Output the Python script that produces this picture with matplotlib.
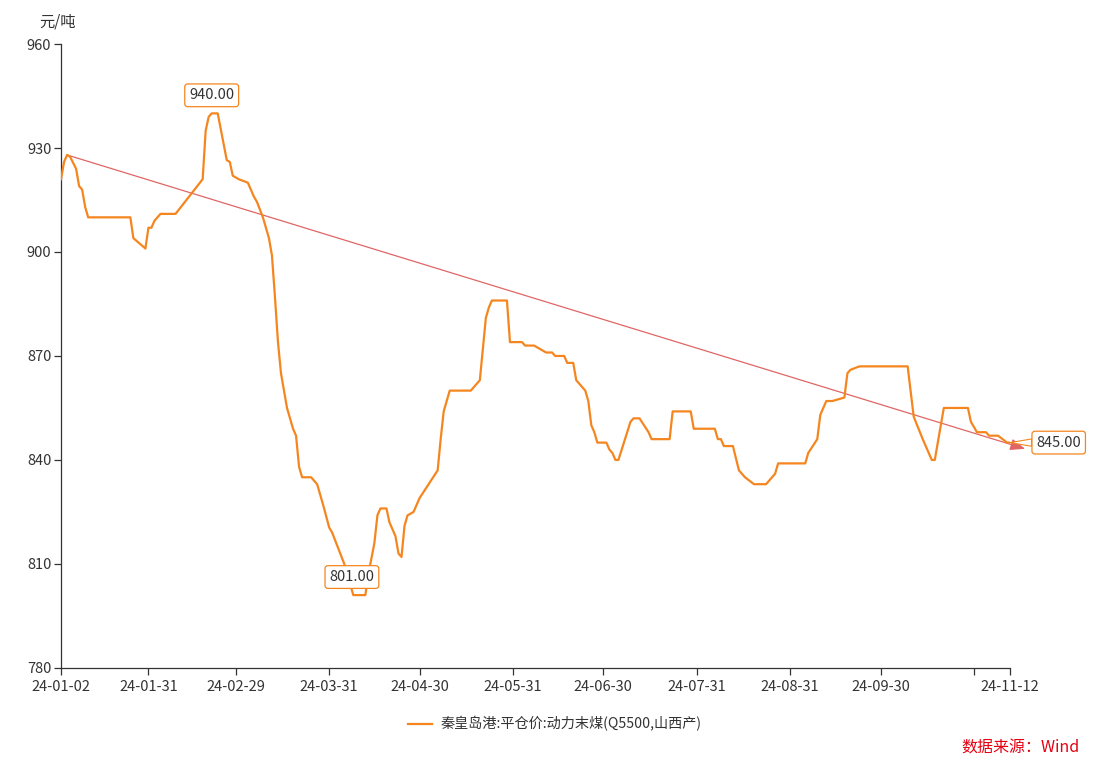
# -*- coding: utf-8 -*-
# Qinhuangdao thermal coal price chart (2024)
import numpy as np
import pandas as pd
import matplotlib
matplotlib.use('agg')
import matplotlib.pyplot as plt

plt.rcParams['font.family'] = ['Noto Sans CJK SC', 'DejaVu Sans']

# data
dates = ['2024-01-02', '2024-01-03', '2024-01-04', '2024-01-05', '2024-01-07', '2024-01-08',
         '2024-01-09', '2024-01-10', '2024-01-11', '2024-01-25', '2024-01-26', '2024-01-30',
         '2024-01-31', '2024-02-01', '2024-02-02', '2024-02-04', '2024-02-09', '2024-02-18',
         '2024-02-19', '2024-02-20', '2024-02-21', '2024-02-23', '2024-02-26', '2024-02-27',
         '2024-02-28', '2024-02-29', '2024-03-01', '2024-03-04', '2024-03-06', '2024-03-07',
         '2024-03-09', '2024-03-11', '2024-03-12', '2024-03-13', '2024-03-14', '2024-03-15',
         '2024-03-17', '2024-03-19', '2024-03-20', '2024-03-21', '2024-03-22', '2024-03-25',
         '2024-03-27', '2024-03-28', '2024-03-29', '2024-03-31', '2024-04-01', '2024-04-05',
         '2024-04-08', '2024-04-12', '2024-04-13', '2024-04-15', '2024-04-16', '2024-04-17',
         '2024-04-19', '2024-04-20', '2024-04-22', '2024-04-23', '2024-04-24', '2024-04-25',
         '2024-04-26', '2024-04-28', '2024-04-30', '2024-05-06', '2024-05-07', '2024-05-08',
         '2024-05-10', '2024-05-17', '2024-05-20', '2024-05-22', '2024-05-23', '2024-05-24',
         '2024-05-29', '2024-05-30', '2024-06-03', '2024-06-04', '2024-06-07', '2024-06-11',
         '2024-06-13', '2024-06-14', '2024-06-17', '2024-06-18', '2024-06-20', '2024-06-21',
         '2024-06-24', '2024-06-25', '2024-06-26', '2024-06-27', '2024-06-28', '2024-07-01',
         '2024-07-02', '2024-07-03', '2024-07-04', '2024-07-05', '2024-07-09', '2024-07-10',
         '2024-07-12', '2024-07-15', '2024-07-16', '2024-07-22', '2024-07-23', '2024-07-29',
         '2024-07-30', '2024-08-06', '2024-08-07', '2024-08-08', '2024-08-09', '2024-08-12',
         '2024-08-14', '2024-08-16', '2024-08-19', '2024-08-23', '2024-08-26', '2024-08-27',
         '2024-09-05', '2024-09-06', '2024-09-09', '2024-09-10', '2024-09-12', '2024-09-14',
         '2024-09-18', '2024-09-19', '2024-09-20', '2024-09-23', '2024-10-09', '2024-10-11',
         '2024-10-14', '2024-10-16', '2024-10-17', '2024-10-18', '2024-10-21', '2024-10-29',
         '2024-10-30', '2024-11-01', '2024-11-04', '2024-11-05', '2024-11-08', '2024-11-11',
         '2024-11-12']
prices = [921, 926, 928, 927.5, 924, 919,
          918, 913, 910, 910, 904, 901,
          907, 907, 909, 911, 911, 921,
          935, 939, 940, 940, 926.5, 926,
          922, 921.5, 921, 920, 916, 914.5,
          910, 904, 899, 887, 874, 865,
          855, 849, 847, 838, 835, 835,
          833, 830, 827, 820.5, 819, 810,
          801, 801, 807, 816, 824, 826,
          826, 822, 818, 813, 812, 821,
          824, 825, 829, 837, 846, 854,
          860, 860, 863, 881, 884, 886,
          886, 874, 874, 873, 873, 871,
          871, 870, 870, 868, 868, 863,
          860, 857, 850, 848, 845, 845,
          843, 842, 840, 840, 851, 852,
          852, 848, 846, 846, 854, 854,
          849, 849, 846, 846, 844, 844,
          837, 835, 833, 833, 836, 839,
          839, 842, 846, 853, 857, 857,
          858, 865, 866, 867, 867, 852.5,
          846, 842, 840, 840, 855, 855,
          851, 848, 848, 847, 847, 845,
          845]

series_name = '秦皇岛港:平仓价:动力末煤(Q5500,山西产)'
tick_dates = ['2024-01-02', '2024-01-31', '2024-02-29', '2024-03-31', '2024-04-30', '2024-05-31',
              '2024-06-30', '2024-07-31', '2024-08-31', '2024-09-30', '2024-10-31', '2024-11-12']
tick_labels = ['24-01-02', '24-01-31', '24-02-29', '24-03-31', '24-04-30', '24-05-31',
               '24-06-30', '24-07-31', '24-08-31', '24-09-30', '', '24-11-12']
yticks = [780, 810, 840, 870, 900, 930, 960]

# trend arrow (start / end)
trend_dates = ['2024-01-04', '2024-11-17']
trend_vals = [928, 843.2]

x = pd.to_datetime(dates)
y = np.array(prices)

orange = '#f5861f'
txt = '#333333'

fig = plt.figure(figsize=(11.1, 7.73), dpi=100)
ax = fig.add_axes([0.055, 0.136, 0.855, 0.807])

ax.plot(x, y, color=orange, lw=1.6, label=series_name, zorder=3)

# trend arrow
td = pd.to_datetime(trend_dates)
ax.annotate('', xy=(td[1], trend_vals[1]), xytext=(td[0], trend_vals[0]),
            arrowprops=dict(arrowstyle='-|>,head_length=0.9,head_width=0.35', color='#e06666',
                            lw=0.9, shrinkA=0, shrinkB=0),
            annotation_clip=False, zorder=2)

box = dict(boxstyle='round,pad=0.3,rounding_size=0.2', fc='white', ec=orange, lw=0.9)
imax = int(np.argmax(y))
imin = int(np.argmin(y))
ax.annotate('%.2f' % y[imax], xy=(x[imax], y[imax]), xytext=(0, 13),
            textcoords='offset points', ha='center', va='center', fontsize=10.5, color=txt,
            bbox=box, zorder=5)
ax.annotate('%.2f' % y[imin], xy=(x[imin], y[imin]), xytext=(-1, 13), textcoords='offset points',
            ha='center', va='center', fontsize=10.5, color=txt, bbox=box, zorder=5)
ax.annotate('%.2f' % y[-1], xy=(x[-1], y[-1]), xytext=(35, 0), textcoords='offset points',
            ha='center', va='center', fontsize=10.5, color=txt, bbox=box,
            arrowprops=dict(arrowstyle='wedge,tail_width=0.5', fc='white', ec=orange, lw=0.8,
                            shrinkA=0, shrinkB=0),
            annotation_clip=False, zorder=5)

ax.set_xlim(pd.Timestamp(dates[0]), pd.Timestamp(dates[-1]))
ax.set_ylim(780, 960)
ax.set_yticks(yticks)
ax.set_xticks(pd.to_datetime(tick_dates))
ax.set_xticklabels(tick_labels)

for s in ['top', 'right']:
    ax.spines[s].set_visible(False)
for s in ['left', 'bottom']:
    ax.spines[s].set_color(txt)
    ax.spines[s].set_linewidth(0.9)
ax.tick_params(colors=txt, labelsize=10.5, length=5, width=0.9, direction='out')
ax.tick_params(axis='y', pad=2)

fig.text(58 / 1110, 1 - 22 / 773, '元/吨', ha='center', va='center', fontsize=11, color=txt)

fig.legend(loc='center', bbox_to_anchor=(0.5, 1 - 724 / 773), frameon=False, fontsize=10.2,
           handlelength=1.7, handletextpad=0.6, labelcolor=txt)

fig.text(1080 / 1110, 1 - 748 / 773, '数据来源：Wind', ha='right', va='center', fontsize=11.5,
         color='#e60012')

plt.savefig('out.png', dpi=100)
plt.close()
